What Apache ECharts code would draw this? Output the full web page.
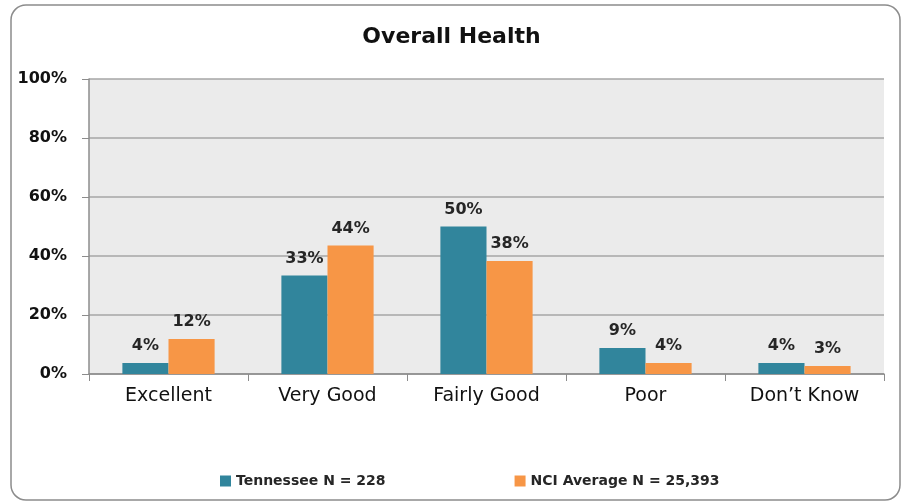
<!DOCTYPE html>
<html><head><meta charset="utf-8">
<script src="https://cdn.jsdelivr.net/npm/echarts@6/dist/echarts.min.js"></script>
<style>html,body{margin:0;padding:0;background:#fff}#c{width:903px;height:502px}</style>
</head><body><div id="c"></div>
<script>
const categories = ['Excellent', 'Very Good', 'Fairly Good', 'Poor', 'Don\u2019t Know'];
const tennessee = [3.7, 33.4, 50.0, 8.8, 3.7];
const nciAverage = [11.9, 43.6, 38.3, 3.7, 2.7];
const seriesNames = ['Tennessee N = 228', 'NCI Average N = 25,393'];
const yTicks = [0, 20, 40, 60, 80, 100];

const FONT = '"DejaVu Sans", sans-serif';
const chart = echarts.init(document.getElementById('c'), null, {renderer: 'canvas'});
const labelCfg = {
  show: true, position: 'top', distance: 9,
  formatter: p => Math.round(p.value) + '%',
  color: '#262626', fontFamily: FONT, fontWeight: 'bold', fontSize: 16
};
chart.setOption({
  animation: false,
  title: {
    text: 'Overall Health', left: 'center', top: 21,
    textStyle: {fontFamily: FONT, fontWeight: 'bold', fontSize: 22, color: '#111'}
  },
  graphic: [{
    type: 'rect', z: -1,
    shape: {x: 11, y: 5, width: 889, height: 495, r: 15},
    style: {fill: 'none', stroke: '#8c8c8c', lineWidth: 1.5}
  }],
  legend: {
    top: 469, left: 215, itemGap: 129, itemWidth: 11, itemHeight: 11,
    icon: 'rect',
    textStyle: {fontFamily: FONT, fontSize: 14, fontWeight: 'bold', color: '#262626'},
    data: seriesNames
  },
  grid: {
    left: 89, right: 19, top: 79, bottom: 128, show: true,
    backgroundColor: '#EBEBEB', borderWidth: 0
  },
  xAxis: {
    type: 'category', data: categories,
    axisLine: {show: true, lineStyle: {color: '#8c8c8c', width: 1.5}},
    axisTick: {show: true, alignWithLabel: false, length: 7, lineStyle: {color: '#8c8c8c'}},
    axisLabel: {fontFamily: FONT, fontSize: 19, color: '#111', margin: 13}
  },
  yAxis: {
    type: 'value', min: yTicks[0], max: yTicks[yTicks.length - 1], interval: 20,
    axisLine: {show: true, lineStyle: {color: '#8c8c8c', width: 1.5}},
    axisTick: {show: true, length: 7, lineStyle: {color: '#8c8c8c'}},
    splitLine: {show: true, lineStyle: {color: '#a6a6a6', width: 1.5}},
    axisLabel: {formatter: v => v + '%', fontFamily: FONT, fontWeight: 'bold', fontSize: 16, color: '#111', margin: 22}
  },
  series: [
    {name: seriesNames[0], type: 'bar', data: tennessee, barGap: '0%', barCategoryGap: '42%',
     itemStyle: {color: '#31859C'}, label: labelCfg},
    {name: seriesNames[1], type: 'bar', data: nciAverage,
     itemStyle: {color: '#F79646'}, label: labelCfg}
  ]
});
</script></body></html>
